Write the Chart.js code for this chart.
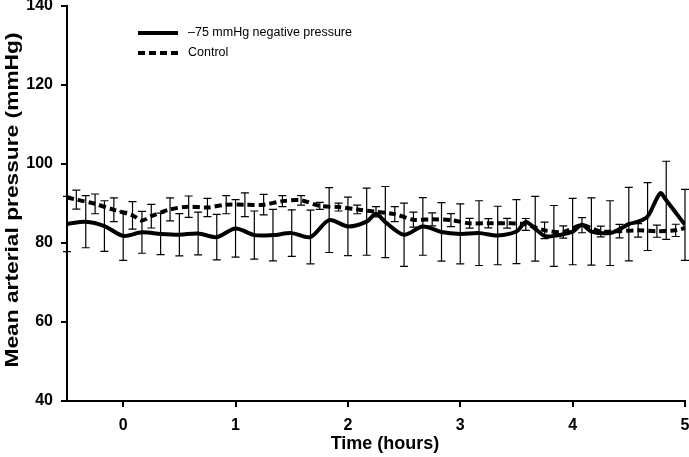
<!DOCTYPE html>
<html>
<head>
<meta charset="utf-8">
<script src="https://cdn.jsdelivr.net/npm/chart.js@4/dist/chart.umd.min.js"></script>
<style>
  html, body { margin: 0; padding: 0; background: #fff; }
</style>
</head>
<body>
<canvas id="mapChart" width="689" height="457"></canvas>
<script>
// series names and axis titles
const seriesNames = ['\u201375 mmHg negative pressure', 'Control'];
const xTitle = 'Time (hours)';
const yTitle = 'Mean arterial pressure (mmHg)';

// -75 mmHg negative pressure (solid line), time in hours
const solidTimes = [-0.5, -0.333, -0.167, 0, 0.167, 0.333, 0.5, 0.667, 0.833, 1.0,
  1.167, 1.333, 1.5, 1.667, 1.833, 2.0, 2.167, 2.25, 2.333, 2.5,
  2.667, 2.833, 3.0, 3.167, 3.333, 3.5, 3.583, 3.667, 3.75, 3.833,
  4.0, 4.083, 4.167, 4.333, 4.417, 4.5, 4.583, 4.667, 4.78, 4.833, 5.0];
const solidMean = [84.8, 85.4, 84.3, 81.8, 82.7, 82.3, 82.1, 82.4, 81.5, 83.7,
  82.0, 82.0, 82.5, 81.5, 85.8, 84.2, 85.4, 87.4, 85.3, 82.1,
  84.2, 82.8, 82.3, 82.5, 81.9, 82.9, 85.3, 83.6, 81.8, 81.8,
  82.9, 84.6, 82.9, 82.5, 83.5, 84.8, 85.4, 86.7, 92.6, 90.8, 84.6];
const solidErr = [7, 6.6, 6.4, 6.2, 5.3, 5.25, 5.35, 5.4, 5.75, 7.3,
  6.1, 6.5, 5.9, 6.8, 8.2, 7.4, 8.5, null, 9, 8,
  7.3, 7.4, 7.6, 8.2, 7.4, 8.1, null, 8.2, null, 7.7,
  8.4, null, 8.5, 8.2, null, 9.3, null, 8.6, null, 9.9, 9];

// Control (dashed line)
const controlTimes = [-0.5, -0.417, -0.25, -0.083, 0.083, 0.167, 0.25, 0.417, 0.583, 0.75,
  0.917, 1.083, 1.25, 1.417, 1.583, 1.75, 1.917, 2.083, 2.25, 2.417,
  2.583, 2.75, 2.917, 3.083, 3.25, 3.417, 3.583, 3.75, 3.917, 4.083,
  4.25, 4.417, 4.583, 4.75, 4.917, 5.0];
const controlMean = [91.5, 91.0, 89.9, 88.4, 87.0, 85.7, 86.8, 88.5, 89.2, 89.0,
  89.7, 89.7, 89.7, 90.6, 90.8, 89.4, 89.1, 88.5, 87.9, 87.3,
  85.9, 86.0, 85.8, 85.0, 85.0, 85.0, 84.7, 83.2, 82.8, 84.5,
  82.9, 83.0, 83.2, 83.0, 83.2, 83.8];
const controlErr = [null, 2.4, 2.5, 3, 3.5, null, 3, 2.9, 2.7, 2.3,
  2.3, 3, 2.6, 1.4, 1.2, 0.9, 1.0, 1.1, 1.3, 1.9,
  1.9, 1.65, 1.65, 1.25, 1.15, 1.25, 1.5, 2.1, 1.55, 1.9,
  1.35, 1.7, 1.7, 1.55, 1.55, null];

// axis ticks
const xTicks = [0, 1, 2, 3, 4, 5];
const yTicks = [40, 60, 80, 100, 120, 140];

const fontFamily = '"Liberation Sans", Arial, sans-serif';

const toPoints = (xs, ys) => xs.map((t, i) => ({ x: t, y: ys[i] }));

// vertical error bars with caps
const errorBars = {
  id: 'errorBars',
  afterDatasetsDraw(chart) {
    const ctx = chart.ctx;
    const xs = chart.scales.x, ys = chart.scales.y;
    chart.data.datasets.forEach(ds => {
      ctx.save();
      ctx.strokeStyle = '#000';
      ctx.lineWidth = 1.2;
      ds.data.forEach((p, i) => {
        const e = ds.errors[i];
        if (e == null) return;
        const px = xs.getPixelForValue(p.x);
        const top = ys.getPixelForValue(p.y + e);
        const bot = ys.getPixelForValue(p.y - e);
        ctx.beginPath();
        ctx.moveTo(px, top); ctx.lineTo(px, bot);
        ctx.moveTo(px - 4, top); ctx.lineTo(px + 4, top);
        ctx.moveTo(px - 4, bot); ctx.lineTo(px + 4, bot);
        ctx.stroke();
      });
      ctx.restore();
    });
  }
};

// legend in the top left of the plot + axis titles
const extras = {
  id: 'extras',
  afterDraw(chart) {
    const ctx = chart.ctx;
    const area = chart.chartArea;
    ctx.save();
    chart.data.datasets.forEach((ds, i) => {
      const y = 33 + i * 20;
      ctx.beginPath();
      ctx.strokeStyle = '#000';
      ctx.lineWidth = ds.borderWidth;
      ctx.setLineDash(ds.borderDash || []);
      ctx.moveTo(138, y);
      ctx.lineTo(178, y);
      ctx.stroke();
      ctx.setLineDash([]);
      ctx.fillStyle = '#000';
      ctx.font = '12.5px ' + fontFamily;
      ctx.textBaseline = 'middle';
      ctx.textAlign = 'left';
      ctx.fillText(ds.label, 188, y);
    });

    ctx.fillStyle = '#000';
    ctx.textAlign = 'center';
    ctx.textBaseline = 'middle';
    ctx.font = 'bold 18px ' + fontFamily;
    ctx.fillText(xTitle, 385, 444);

    // y title, a little stretched along its length like the original
    ctx.translate(13, 200);
    ctx.rotate(-Math.PI / 2);
    ctx.scale(1.3, 1);
    ctx.font = 'bold 17.5px ' + fontFamily;
    ctx.fillText(yTitle, 0, 0);
    ctx.restore();
  }
};

new Chart(document.getElementById('mapChart'), {
  type: 'line',
  data: {
    datasets: [{
      label: seriesNames[0],
      data: toPoints(solidTimes, solidMean),
      errors: solidErr,
      borderColor: '#000',
      borderWidth: 4,
      pointRadius: 0,
      tension: 0.3,
      fill: false
    }, {
      label: seriesNames[1],
      data: toPoints(controlTimes, controlMean),
      errors: controlErr,
      borderColor: '#000',
      borderWidth: 4,
      borderDash: [7, 4],
      pointRadius: 0,
      tension: 0.3,
      fill: false
    }]
  },
  options: {
    responsive: false,
    animation: false,
    layout: { padding: { top: 6, right: 4, bottom: 0, left: 0 } },
    plugins: { legend: { display: false }, tooltip: { enabled: false } },
    scales: {
      x: {
        type: 'linear',
        min: -0.5,
        max: 5,
        afterBuildTicks: s => { s.ticks = xTicks.map(v => ({ value: v })); },
        afterFit: s => { s.height = 56; s.paddingLeft = 0; s.paddingRight = 0; },
        grid: { drawOnChartArea: false, tickLength: 6, color: '#000', lineWidth: 2 },
        border: { color: '#000', width: 2 },
        ticks: {
          color: '#000', padding: 9, maxRotation: 0, autoSkip: false,
          font: { family: fontFamily, size: 16, weight: 'bold' }
        }
      },
      y: {
        min: 40,
        max: 140,
        afterBuildTicks: s => { s.ticks = yTicks.map(v => ({ value: v })); },
        afterFit: s => { s.width = 67; s.paddingTop = 0; s.paddingBottom = 0; },
        grid: { drawOnChartArea: false, tickLength: 6, color: '#000', lineWidth: 2 },
        border: { color: '#000', width: 2 },
        ticks: {
          color: '#000', padding: 8,
          font: { family: fontFamily, size: 16, weight: 'bold' }
        }
      }
    }
  },
  plugins: [errorBars, extras]
});
</script>
</body>
</html>
